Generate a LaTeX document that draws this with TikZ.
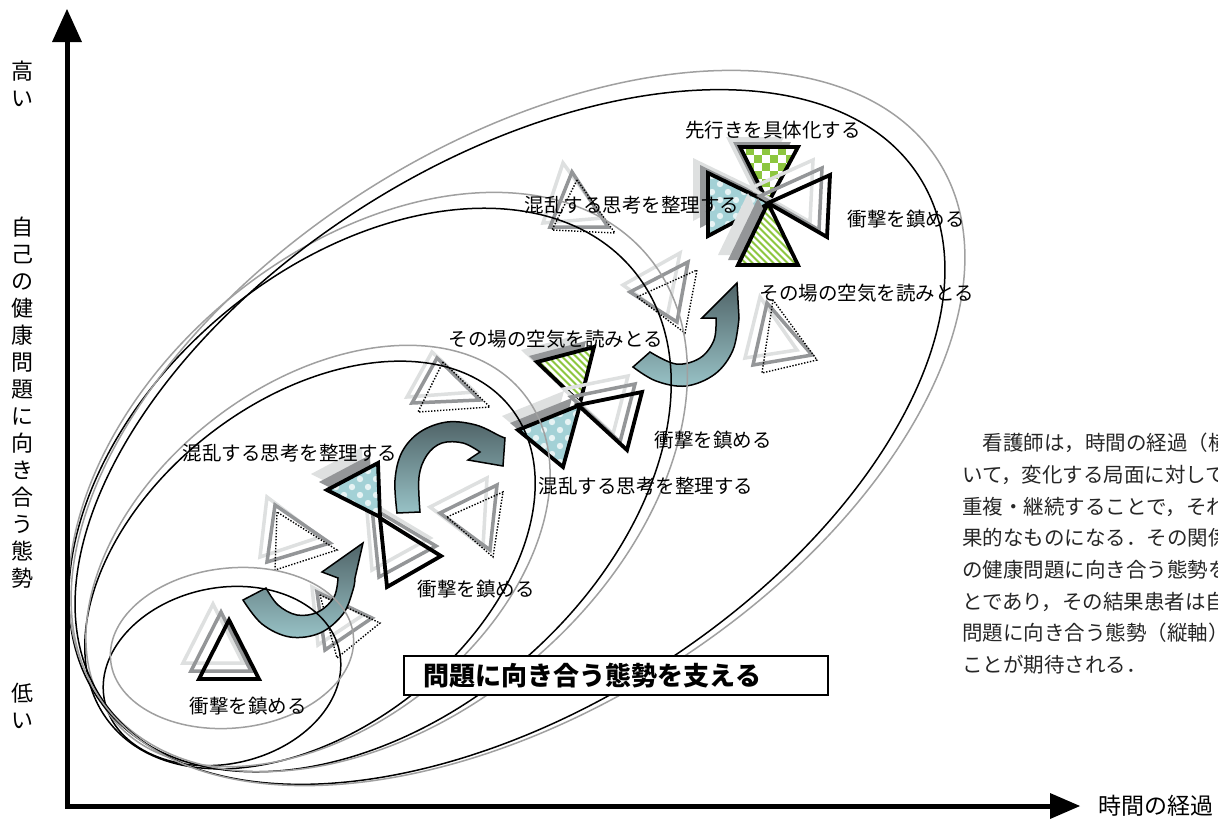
\documentclass[tikz,border=0pt]{standalone}
\usepackage{fontspec}
\setmainfont{Noto Sans CJK JP}
\usetikzlibrary{calc}
\definecolor{lgrey}{RGB}{222,224,224}
\definecolor{mgrey}{RGB}{148,150,152}
\definecolor{ellgrey}{RGB}{160,160,160}
\definecolor{blueC}{RGB}{163,209,214}
\definecolor{greenC}{RGB}{141,198,63}
\definecolor{arrD}{RGB}{80,100,104}
\definecolor{arrL}{RGB}{152,194,198}
\newcommand{\blueTri}[5]{%
  \begin{scope}
    \clip #1--#2--#3--cycle;
    \fill[blueC] #1--#2--#3--cycle;
    \foreach \i in {0,...,12}{\foreach \j in {0,...,12}{%
      \ifodd\numexpr\i+\j\relax\else
        \fill[white,opacity=0.75] ({#4+8*\i},{#5+8*\j}) circle (3.2);
      \fi}}
  \end{scope}}
\newcommand{\checkTri}[5]{%
  \begin{scope}
    \clip #1--#2--#3--cycle;
    \fill[greenC] #1--#2--#3--cycle;
    \foreach \i in {0,...,12}{\foreach \j in {0,...,12}{%
      \ifodd\numexpr\i+\j\relax\else
        \fill[white] ({#4+8*\i},{#5+8*\j}) rectangle ++(8,8);
      \fi}}
  \end{scope}}
\newcommand{\stripeTri}[5]{%
  \begin{scope}
    \clip #1--#2--#3--cycle;
    \fill[greenC] #1--#2--#3--cycle;
    \foreach \k in {0,...,30}{%
      \draw[white,line width=2.6pt] ({#4-110+7*\k},{#5}) -- ++(110,110);}
  \end{scope}}
\tikzset{
  tlt/.style={draw=lgrey, line width=3.5pt, line join=miter},
  tmd/.style={draw=mgrey, line width=3.5pt, line join=miter},
  tbk/.style={draw=black, line width=3.8pt, line join=miter},
  tdt/.style={draw=black, line width=1.4pt, dash pattern=on 1.4pt off 1.6pt},
  ellb/.style={draw=black, line width=1.5pt},
  ellg/.style={draw=ellgrey, line width=1.5pt},
  lab/.style={font=\fontsize{19.5}{20}\selectfont, inner sep=0pt},
  vlab/.style={font=\fontsize{22}{27}\selectfont, inner sep=0pt, align=center},
  para/.style={font=\fontsize{20.5}{22}\selectfont, inner sep=0pt, anchor=west, text=black!85},
  arr/.style={draw=black, line width=1.5pt, line join=miter, top color=arrD, bottom color=arrL}
}
\begin{document}
\begin{tikzpicture}[x=1pt,y=-1pt]
\useasboundingbox (0,0) rectangle (1218,820);
\fill[white] (0,0) rectangle (1218,820);

% ---------- plain triangle groups ----------
\draw[tlt] (213,604)--(183,663)--(243,663)--cycle;
\draw[tmd] (221,612)--(191,671)--(251,671)--cycle;
\draw[tbk] (229,620)--(199,679)--(259,679)--cycle;
\draw[tlt] (312,587)--(363,615)--(318,645)--cycle;
\draw[tmd] (317,592)--(372,618)--(325,650)--cycle;
\draw[tdt] (320,595)--(380,623)--(337,658)--cycle;
\draw[tlt] (267,497)--(260,557)--(320,537)--cycle;
\draw[tmd] (275,505)--(267,562)--(330,543)--cycle;
\draw[tdt] (277,512)--(275,570)--(337,550)--cycle;
\draw[tlt] (430,507)--(487,478)--(483,547)--cycle;
\draw[tmd] (440,513)--(497,485)--(490,550)--cycle;
\draw[tdt] (447,517)--(503,492)--(493,557)--cycle;
\draw[tlt] (432,352)--(407,397)--(475,392)--cycle;
\draw[tmd] (437,358)--(412,403)--(480,400)--cycle;
\draw[tdt] (443,362)--(418,412)--(490,407)--cycle;
\draw[tlt] (623,285)--(680,253)--(667,317)--cycle;
\draw[tmd] (630,292)--(688,262)--(677,322)--cycle;
\draw[tdt] (637,297)--(697,270)--(685,333)--cycle;
\draw[tlt] (760,297)--(745,358)--(797,350)--cycle;
\draw[tmd] (767,303)--(753,365)--(812,355)--cycle;
\draw[tdt] (773,300)--(762,373)--(817,360)--cycle;
\draw[tlt] (563,163)--(543,223)--(603,218)--cycle;
\draw[tmd] (572,172)--(550,227)--(608,227)--cycle;
\draw[tdt] (577,180)--(552,230)--(615,233)--cycle;

\draw[tlt] (366,500)--(430,538)--(372,570)--cycle;
\draw[tmd] (372,508)--(436,546)--(379,577)--cycle;
\draw[tbk] (380,518)--(441,556)--(387,587)--cycle;

% blue, left
\fill[lgrey] (311,474)--(362,447)--(364,501)--cycle;
\fill[mgrey] (319,482)--(370,455)--(372,509)--cycle;
\blueTri{(327,490)}{(378,463)}{(380,517)}{320}{455}
\draw[tbk] (327,490)--(378,463)--(380,517)--cycle;

% centre group
\fill[lgrey] (521,350)--(578,335)--(564,391)--cycle;
\fill[mgrey] (529,356)--(586,341)--(572,397)--cycle;
\stripeTri{(537,362)}{(594,347)}{(580,403)}{540}{340}
\draw[tbk] (537,362)--(594,347)--(580,403)--cycle;
\draw[tlt] (564,389)--(628,376)--(613,434)--cycle;
\draw[tmd] (571,397)--(635,384)--(620,442)--cycle;
\fill[lgrey] (502,416)--(564,391)--(547,453)--cycle;
\fill[mgrey] (510,423)--(572,398)--(555,460)--cycle;
\blueTri{(518,430)}{(580,405)}{(563,467)}{512}{398}
\draw[tbk] (518,430)--(580,405)--(563,467)--cycle;
\draw[tbk] (578,405)--(642,392)--(627,450)--cycle;

% top-right group
\fill[lgrey] (693,158)--(693,221)--(755,188)--cycle;
\fill[mgrey] (700,165)--(700,228)--(762,195)--cycle;
\blueTri{(708,173)}{(708,236)}{(770,203)}{704}{168}
\draw[tbk] (708,173)--(708,236)--(770,203)--cycle;
\fill[lgrey] (726,137)--(784,137)--(754,193)--cycle;
\fill[mgrey] (733,142)--(791,142)--(761,198)--cycle;
\checkTri{(740,147)}{(798,147)}{(768,203)}{738}{147}
\draw[tbk] (740,147)--(798,147)--(768,203)--cycle;
\fill[lgrey] (748,193)--(718,255)--(778,255)--cycle;
\fill[mgrey] (758,198)--(728,260)--(788,260)--cycle;
\stripeTri{(768,203)}{(738,265)}{(798,265)}{740}{200}
\draw[tbk] (768,203)--(738,265)--(798,265)--cycle;
\draw[tlt] (751,188)--(813,160)--(810,222)--cycle;
\draw[tmd] (760,196)--(822,168)--(819,230)--cycle;
\draw[tbk] (768,203)--(830,175)--(827,237)--cycle;

% ---------- curved arrows ----------
\draw[arr] (243,600) -- plot[smooth, tension=0.6] coordinates {(243,600) (262,624) (290,637) (320,633) (343,614) (353,590) (355,578)} -- (363,543) -- (322,572) -- plot[smooth, tension=0.6] coordinates {(338,578) (334,597) (318,612) (297,615) (278,605) (266,588)} -- cycle;
\draw[arr] (397,513) -- plot[smooth, tension=0.6] coordinates {(397,513) (395,480) (402,452) (420,432) (447,422) (476,425) (500,436) (505,438)} -- (503,466) -- (468,460) -- plot[smooth, tension=0.6] coordinates {(480,452) (463,443) (442,443) (427,455) (419,477) (420,512)} -- cycle;
\draw[arr] (633,367) -- plot[smooth, tension=0.6] coordinates {(633,367) (656,381) (686,386) (715,374) (733,350) (739,318)} -- (737,283) -- (702,318) -- plot[smooth, tension=0.6] coordinates {(716,318) (714,340) (700,358) (676,364) (650,352)} -- cycle;

% ---------- loops ----------
\draw[ellb, rotate around={12:(222,676)}] (222,676) ellipse [x radius=120, y radius=88];
\draw[ellg, rotate around={6:(232,648)}] (232,648) ellipse [x radius=122, y radius=80];
\draw[ellb, rotate around={38:(310,565)}] (310,565) ellipse [x radius=255, y radius=165];
\draw[ellg, rotate around={38:(318,556)}] (318,556) ellipse [x radius=262, y radius=172];
\draw[ellb, rotate around={40:(370,490)}] (370,490) ellipse [x radius=343, y radius=229];
\draw[ellg, rotate around={40:(378,482)}] (378,482) ellipse [x radius=352, y radius=236];
\draw[ellb, rotate around={32.4:(510,437)}] (510,437) ellipse [x radius=485, y radius=273];
\draw[ellg, rotate around={32.4:(518,428)}] (518,428) ellipse [x radius=498, y radius=282];

% ---------- axes ----------
\fill[black] (64.5,808.5) rectangle (69.5,40);
\fill[black] (52,42) -- (82,42) -- (67,9) -- cycle;
\fill[black] (64.5,803.5) rectangle (1052,808.5);
\fill[black] (1050,793) -- (1050,819) -- (1080,806) -- cycle;

% ---------- labels ----------
\node[lab] (l1) at (248,706) {衝撃を鎮める};
\node[lab] (l2) at (476,589) {衝撃を鎮める};
\node[lab] (l3) at (290,453) {混乱する思考を整理する};
\node[lab] (l4) at (646,486) {混乱する思考を整理する};
\node[lab] (l5) at (713,440) {衝撃を鎮める};
\node[lab] (l6) at (556,339) {その場の空気を読みとる};
\node[lab] (l7) at (867,293) {その場の空気を読みとる};
\node[lab] (l8) at (906,219) {衝撃を鎮める};
\node[lab] (l9) at (632,205) {混乱する思考を整理する};
\node[lab] (l10) at (773,130) {先行きを具体化する};

\node[draw=black, fill=white, line width=1.8pt, anchor=north west, minimum height=39pt, text width=384pt, inner xsep=20pt, inner ysep=0pt, align=left, font=\fontsize{26}{28}\selectfont\bfseries] (box) at (403,655) {問題に向き合う態勢を支える};

\node[vlab] (hi) at (22,83.5) {高\\い};
\node[vlab] (ax) at (22,403) {自\\己\\の\\健\\康\\問\\題\\に\\向\\き\\合\\う\\態\\勢};
\node[vlab] (lo) at (22,705.5) {低\\い};
\node[font=\fontsize{23}{24}\selectfont, inner sep=0pt] (tx) at (1156,806) {時間の経過};

\begin{scope}
\clip (940,420) rectangle (1218,690);
\node[para] (p1) at (962,443) {　看護師は，時間の経過（横};
\node[para] (p2) at (962,475) {いて，変化する局面に対して};
\node[para] (p3) at (962,507) {重複・継続することで，それ};
\node[para] (p4) at (962,538) {果的なものになる．その関係};
\node[para] (p5) at (962,570) {の健康問題に向き合う態勢を};
\node[para] (p6) at (962,602) {とであり，その結果患者は自};
\node[para] (p7) at (962,633) {問題に向き合う態勢（縦軸）};
\node[para] (p8) at (962,665) {ことが期待される．};
\end{scope}
\end{tikzpicture}
\end{document}
